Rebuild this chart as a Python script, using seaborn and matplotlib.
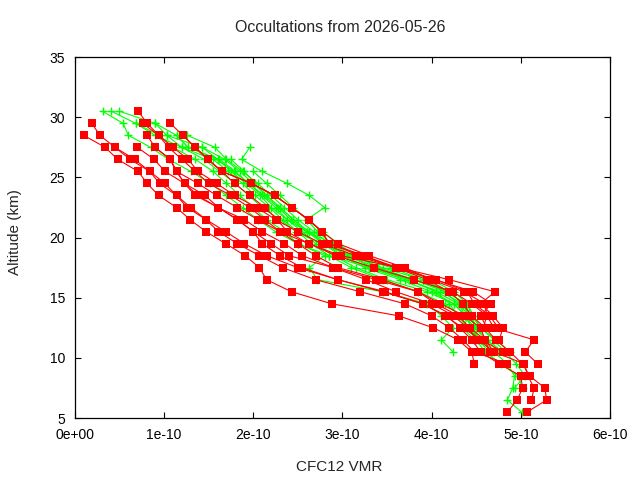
import numpy as np
import pandas as pd
import seaborn as sns
import matplotlib
matplotlib.use("Agg")
import matplotlib.pyplot as plt

sns.set_style("ticks")
plt.rcParams["font.family"] = ["Liberation Sans", "DejaVu Sans"]

# VMR values in units of 1e-10, listed from the top altitude down in 1 km steps
red_tops = [30.5, 29.5, 29.5, 29.5, 28.5, 28.5, 28.5, 27.5, 27.5, 27.5, 27.5, 26.5, 24.5]
red_profiles = [
    [0.71, 0.81, 0.94, 1.10, 1.27, 1.38, 1.59, 1.79, 2.04, 2.25, 2.50, 2.77, 3.15,
     3.60, 3.95, 4.20, 4.35, 4.45, 4.60, 4.72, 4.88, 5.02, 5.10, 5.27, 5.29, 5.07],
    [0.19, 0.28, 0.45, 0.67, 0.84, 0.95, 1.14, 1.26, 1.47, 1.69, 1.90, 2.15, 2.50,
     2.95, 3.45, 3.90, 4.17, 4.32, 4.45, 4.55, 4.76, 5.00, 5.02, 4.96, 4.85],
    [0.76, 0.94, 1.05, 1.20, 1.35, 1.50, 1.75, 1.96, 2.13, 2.30, 2.62, 2.93, 3.35,
     3.80, 4.24, 4.45, 4.62, 4.70, 5.15, 5.05, 5.19],
    [1.07, 1.21, 1.35, 1.49, 1.65, 1.79, 1.96, 2.13, 2.27, 2.38, 2.62, 2.98, 3.63,
     4.20, 4.71, 4.55, 4.69, 4.80, 4.76],
    [0.10, 0.34, 0.48, 0.71, 0.81, 0.94, 1.14, 1.29, 1.47, 1.69, 1.91, 2.07, 2.15,
     2.43, 2.88, 3.63, 4.02, 4.30, 4.45, 4.48],
    [0.81, 0.90, 1.07, 1.14, 1.23, 1.35, 1.61, 1.82, 2.00, 2.20, 2.40, 2.90, 3.38,
     3.85, 4.10, 4.37, 4.55, 4.60, 4.65],
    [1.21, 1.35, 1.49, 1.65, 1.98, 2.24, 2.43, 2.62, 2.77, 2.95, 3.30, 3.70, 4.00,
     4.36, 4.60, 4.62, 4.58],
    [0.45, 0.62, 0.84, 1.01, 1.14, 1.30, 1.47, 1.61, 1.82, 2.07, 2.33, 2.70, 3.20,
     3.70, 4.00, 4.20, 4.35, 4.48, 4.85],
    [0.70, 0.89, 1.01, 1.23, 1.38, 1.60, 1.90, 2.10, 2.35, 2.55, 2.90, 3.27, 3.60,
     4.00, 4.25, 4.40, 4.52, 4.70, 5.04, 5.08, 5.15, 5.12],
    [0.90, 1.07, 1.14, 1.38, 1.59, 1.82, 2.05, 2.30, 2.50, 2.70, 2.95, 3.45, 3.85,
     4.05, 4.30, 4.43, 4.60, 4.70],
    [1.35, 1.49, 1.65, 1.98, 2.24, 2.43, 2.62, 2.77, 2.85, 3.25, 3.60, 4.05, 4.40,
     4.48, 4.65, 4.75],
    [1.07, 1.14, 1.23, 1.46, 1.61, 1.82, 2.00, 2.10, 2.30, 2.55, 2.95, 3.48, 3.90,
     4.15, 4.35, 4.56, 4.80],
    [1.98, 2.24, 2.43, 2.62, 2.77, 2.85, 3.20, 3.63, 4.04, 4.47, 4.67, 4.55, 4.62],
]

green_tops = [30.5, 30.5, 30.5, 29.5, 28.5, 28.5, 27.5, 27.5, 26.5, 29.5, 25.5, 28.5]
green_profiles = [
    [0.31, 0.54, 0.60, 0.85, 1.05, 1.30, 1.52, 1.70, 1.88, 2.05, 2.25, 2.50, 2.85,
     3.30, 3.75, 4.05, 4.20, 4.30, 4.40, 4.55, 4.70, 4.85, 4.93, 4.91, 4.85, 5.01],
    [0.41, 0.68, 0.90, 1.20, 1.45, 1.62, 1.80, 1.95, 2.10, 2.30, 2.48, 2.75, 3.10,
     3.55, 3.90, 4.15, 4.30, 4.38, 4.48, 4.62, 4.80],
    [0.50, 0.90, 1.14, 1.27, 1.60, 1.75, 1.92, 2.08, 2.20, 2.38, 2.60, 2.90, 3.20,
     3.60, 4.00, 4.25, 4.40, 4.45, 4.55, 4.70, 4.82, 4.95, 5.05, 4.93],
    [0.90, 1.03, 1.43, 1.68, 1.85, 2.00, 2.15, 2.30, 2.45, 2.62, 2.82, 3.05, 3.40,
     3.80, 4.20, 4.35, 4.42, 4.50, 4.62, 4.75],
    [1.14, 1.27, 1.62, 1.80, 1.95, 2.10, 2.25, 2.38, 2.55, 2.70, 2.90, 3.15, 3.50,
     3.95, 4.25, 4.38, 4.45, 4.52, 4.65],
    [1.26, 1.57, 1.70, 1.88, 2.05, 2.20, 2.35, 2.50, 2.68, 2.85, 3.05, 3.35, 3.75,
     4.05, 4.30, 4.42, 4.35, 4.48],
    [1.96, 1.87, 2.10, 2.38, 2.63, 2.80, 2.60, 2.72, 2.88, 3.10, 3.45, 3.90, 4.20,
     4.35, 4.45, 4.50],
    [1.43, 1.60, 1.78, 1.95, 2.12, 2.28, 2.42, 2.60, 2.78, 2.98, 3.25, 3.65, 4.00,
     4.25, 4.38, 4.45, 4.55, 4.68],
    [1.75, 1.90, 2.02, 2.15, 2.30, 2.45, 2.62, 2.80, 3.00, 3.30, 3.70, 4.10, 4.35,
     4.42, 4.50],
    [0.68, 0.95, 1.10, 1.35, 1.55, 1.70, 1.85, 2.00, 2.15, 2.35, 2.50, 2.80, 2.63,
     2.72, 3.45, 3.95, 4.11, 4.24, 4.11, 4.24],
    [2.00, 2.15, 2.30, 2.45, 2.60, 2.78, 2.95, 3.15, 3.40, 3.80, 4.15, 4.40, 4.47,
     4.55, 4.72, 4.88],
    [1.03, 1.20, 1.55, 1.72, 1.88, 2.02, 2.18, 2.33, 2.50, 2.65, 2.85, 3.10, 3.45,
     3.85, 4.15, 4.32, 4.40, 4.50, 4.60, 4.78, 4.97, 5.02],
]


def to_frame(tops, profiles):
    rows = []
    for k, (top, vals) in enumerate(zip(tops, profiles)):
        for i, v in enumerate(vals):
            rows.append((k, top - i, v * 1e-10))
    return pd.DataFrame(rows, columns=["profile", "alt", "vmr"])


red = to_frame(red_tops, red_profiles)
green = to_frame(green_tops, green_profiles)

fig = plt.figure(figsize=(6.4, 4.8), dpi=100)
ax = fig.add_axes([0.117, 0.129, 0.836, 0.752])

sns.lineplot(ax=ax, data=green, x="vmr", y="alt", units="profile", estimator=None,
             sort=False, color="#00ff00", linewidth=0.8, marker="+",
             markersize=5.5, markeredgewidth=1.0, markeredgecolor="#00ff00")
sns.lineplot(ax=ax, data=red, x="vmr", y="alt", units="profile", estimator=None,
             sort=False, color="#ff0000", linewidth=0.8, marker="s",
             markersize=5.5, markeredgewidth=0)

ax.set_xlim(0, 6e-10)
ax.set_ylim(5, 35)
ax.set_xticks(np.arange(0, 7e-10, 1e-10))
ax.set_xticklabels(["0e+00", "1e-10", "2e-10", "3e-10", "4e-10", "5e-10", "6e-10"])
ax.set_yticks(range(5, 36, 5))
ax.tick_params(direction="in", top=True, right=True, length=4, width=0.8,
               labelsize=10, colors="black", pad=7)
for s in ax.spines.values():
    s.set_color("black")
    s.set_linewidth(0.9)
ax.set_xlabel("")
ax.set_ylabel("")

fig.text(340 / 640, 1 - 27 / 480, "Occultations from 2026-05-26", fontsize=11.5,
         ha="center", va="center")
fig.text(339 / 640, 1 - 467 / 480, "CFC12 VMR", fontsize=11, ha="center", va="center")
fig.text(15 / 640, 1 - 232 / 480, "Altitude (km)", fontsize=11, rotation=90,
         ha="center", va="center")

fig.savefig("out.png", dpi=100)
